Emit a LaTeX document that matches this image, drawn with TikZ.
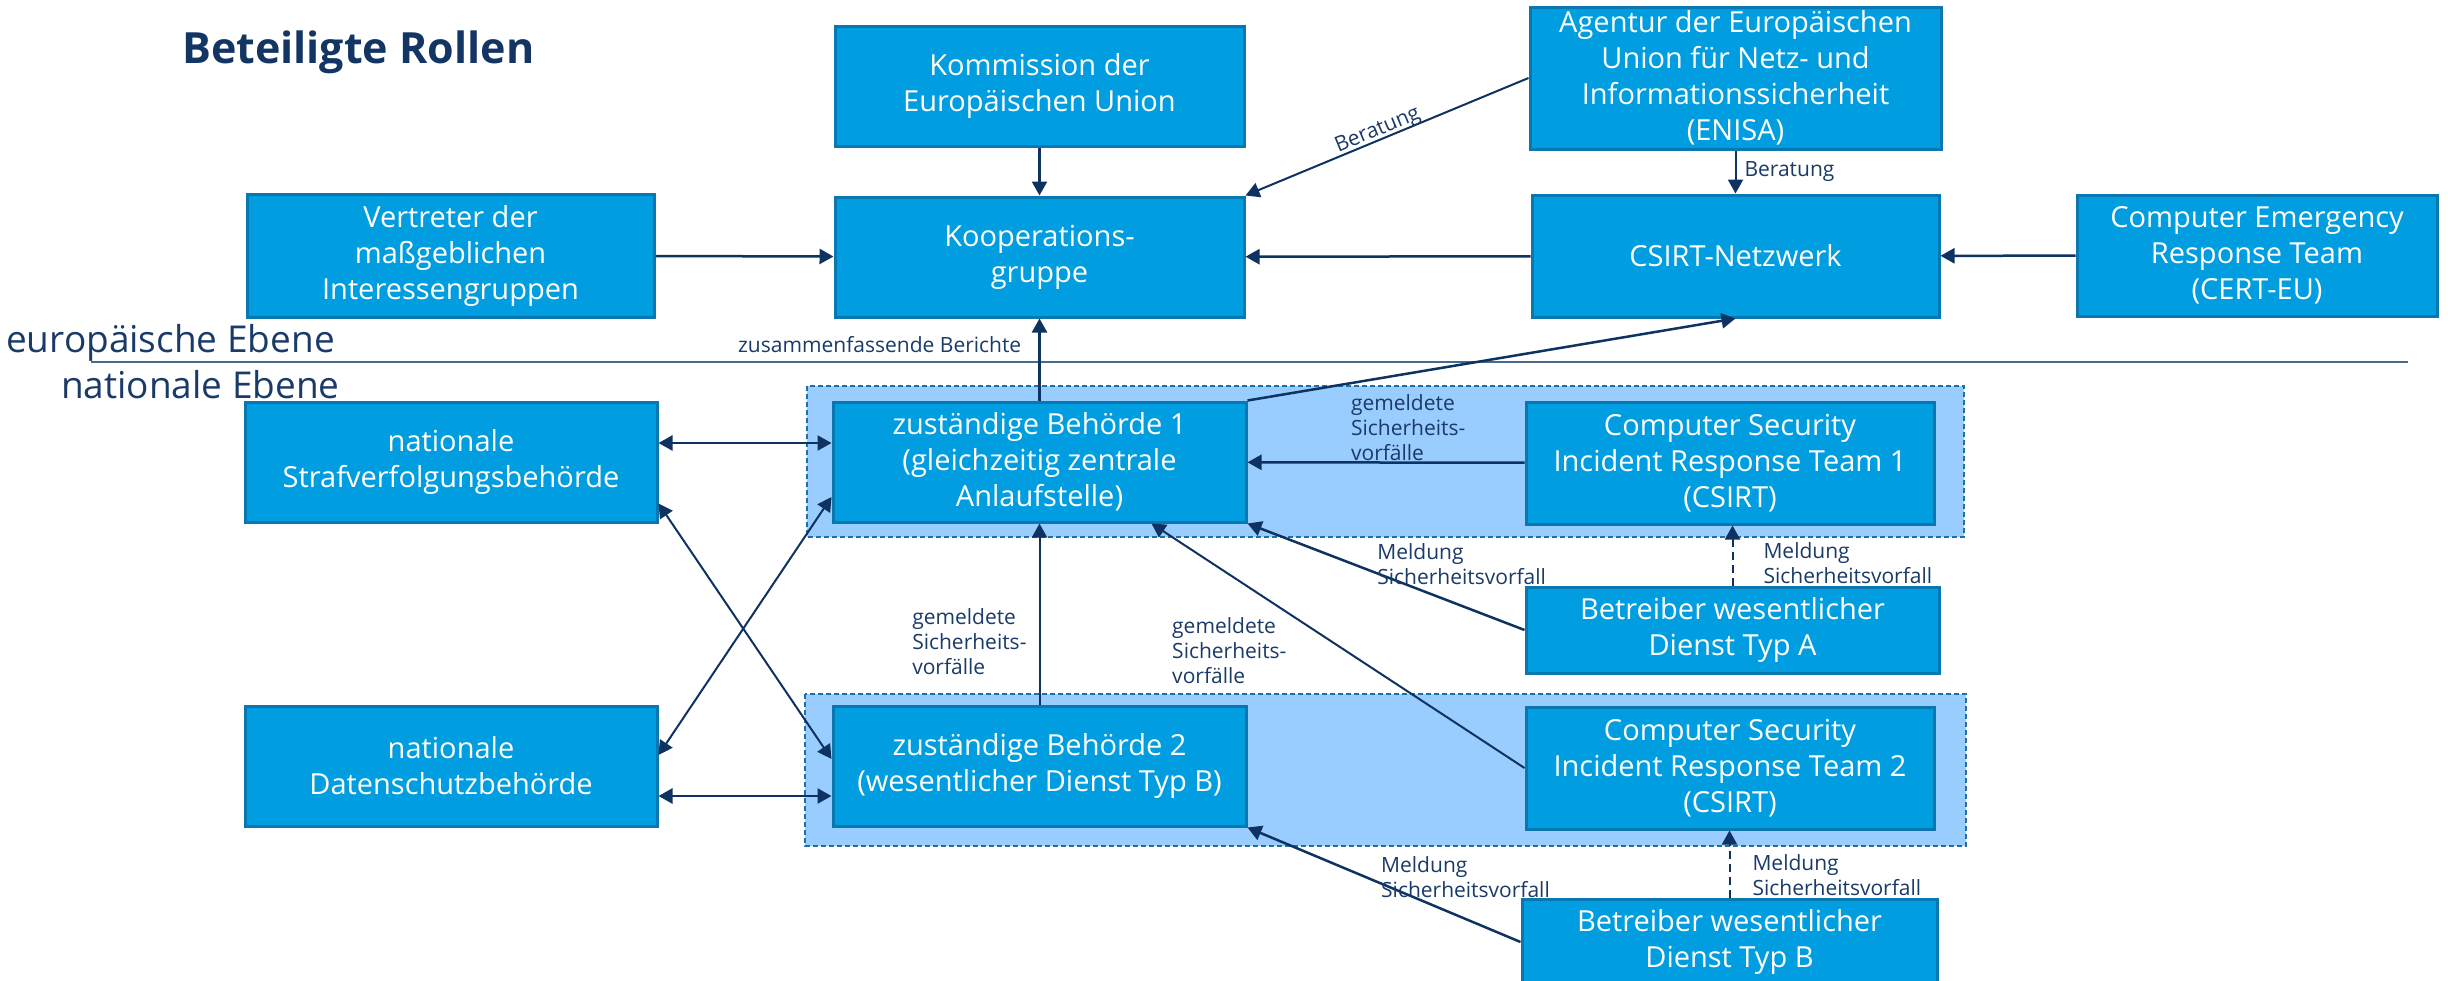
\documentclass[tikz,border=0pt]{standalone}
\usepackage{fontspec}
\setmainfont{Open Sans}
\usetikzlibrary{arrows.meta}
\definecolor{boxblue}{HTML}{009EE0}
\definecolor{boxedge}{HTML}{0B77B0}
\definecolor{groupblue}{HTML}{99CCFF}
\definecolor{groupedge}{HTML}{1F6FA8}
\definecolor{arrowblue}{HTML}{0E3262}
\definecolor{labelblue}{HTML}{1A3A68}
\definecolor{titleblue}{HTML}{123563}
\definecolor{lineblue}{HTML}{4A6A8A}

\begin{document}
\begin{tikzpicture}[x=1pt,y=-1pt,
  my box/.style={
    draw=boxedge, fill=boxblue, line width=3pt, text=white, align=center,
    font=\fontsize{29}{36}\selectfont, inner sep=0pt,
    minimum width=409pt, minimum height=120pt,
  },
  my group/.style={draw=groupedge, fill=groupblue, line width=2pt, dash pattern=on 5pt off 3pt},
  my arrow/.style={draw=arrowblue, line width=2.5pt, -{Triangle[length=14pt,width=15pt]}},
  my double/.style={my arrow, {Triangle[length=14pt,width=15pt]}-{Triangle[length=14pt,width=15pt]}},
  my dashed/.style={my arrow, dash pattern=on 8pt off 5pt},
  my label/.style={text=labelblue, font=\fontsize{21}{25}\selectfont, align=left, inner sep=0pt},
  my side/.style={text=labelblue, font=\fontsize{37}{44}\selectfont, inner sep=0pt},
  ]
  \useasboundingbox (0,0) rectangle (2448,980);

  \node[anchor=base west, text=titleblue, inner sep=0pt, font=\bfseries\fontsize{43}{50}\selectfont] (titel) at (182,63) {Beteiligte Rollen};

  \draw[my group] (807,386) rectangle (1964,537);
  \draw[my group] (805,694) rectangle (1966,846);
  \draw[draw=lineblue, line width=1.5pt] (91,362) -- (2408,362);
  \node[my side, anchor=base west] (euebene) at (6,352) {europäische Ebene};
  \node[my side, anchor=base west] (natebene) at (61,398) {nationale Ebene};

  \node[my box] (komm) at (1039.5,86) {Kommission der\\Europäischen Union};
  \node[my box] (koop) at (1039.5,257) {Kooperations-\\gruppe};
  \node[my box, minimum width=407pt, minimum height=123pt] (vertreter) at (450.5,255.5) {Vertreter der\\maßgeblichen\\Interessengruppen};
  \node[my box, minimum width=411pt, minimum height=142pt] (enisa) at (1735.5,78) {Agentur der Europäischen\\Union für Netz- und\\Informationssicherheit\\(ENISA)};
  \node[my box, minimum width=407pt, minimum height=122pt] (netz) at (1735.5,256) {CSIRT-Netzwerk};
  \node[my box, minimum width=360pt, minimum height=121pt] (cert) at (2257,255.5) {Computer Emergency\\Response Team\\(CERT-EU)};
  \node[my box, minimum width=412pt] (straf) at (451,462) {nationale\\Strafverfolgungsbehörde};
  \node[my box, minimum width=412pt] (daten) at (451,766) {nationale\\Datenschutzbehörde};
  \node[my box, minimum width=413pt] (beh1) at (1039.5,462) {zuständige Behörde 1\\(gleichzeitig zentrale\\Anlaufstelle)};
  \node[my box, minimum width=413pt] (beh2) at (1039.5,766) {zuständige Behörde 2\\(wesentlicher Dienst Typ B)};
  \node[my box, minimum width=408pt, minimum height=122pt] (csirt1) at (1730,463) {Computer Security\\Incident Response Team 1\\(CSIRT)};
  \node[my box, minimum width=408pt, minimum height=122pt] (csirt2) at (1730,768) {Computer Security\\Incident Response Team 2\\(CSIRT)};
  \node[my box, minimum width=413pt, minimum height=86pt] (betrA) at (1732.5,630) {Betreiber wesentlicher\\Dienst Typ A};
  \node[my box, minimum width=415pt, minimum height=86pt] (betrB) at (1729.5,942) {Betreiber wesentlicher\\Dienst Typ B};

  \draw[my arrow] (komm) -- (koop);
  \draw[my arrow] (vertreter) -- (koop);
  \draw[my arrow] (netz) -- (koop);
  \draw[my arrow] (cert) -- (netz);
  \draw[my arrow, line width=2pt] (enisa.west) -- node[my label, pos=0.52, sloped, above=-2pt] {Beratung} (koop.north east);
  \draw[my arrow, line width=2pt] (enisa) -- node[my label, right=8pt] {Beratung} (netz);
  \draw[my arrow] (beh1.north east) -- (netz.south);
  \draw[my arrow] (beh1) -- node[my label, pos=0.588, anchor=base east, xshift=-17pt] {zusammenfassende Berichte} (koop);
  \draw[my arrow] (csirt1) -- node[my label, pos=0.42, above=1pt] {gemeldete\\Sicherheits-\\vorfälle} (beh1);

  \draw[my double] ([yshift=19pt]straf.east) -- ([yshift=19pt]beh1.west);
  \draw[my double] ([yshift=-30pt]daten.east) -- ([yshift=-30pt]beh2.west);
  \draw[my double, line width=2pt] ([yshift=20pt]straf.south east) -- ([yshift=7pt]beh2.west);
  \draw[my double, line width=2pt] ([yshift=11pt]daten.east) -- ([yshift=-35pt]beh1.west);

  \draw[my arrow, line width=2pt] (beh2) -- node[my label, pos=0.35, left=12pt] {gemeldete\\Sicherheits-\\vorfälle} (beh1);
  \draw[my arrow, line width=2pt] (csirt2.west) -- node[my label, pos=0.48, left=58pt] {gemeldete\\Sicherheits-\\vorfälle} ([xshift=112pt]beh1.south);
  \draw[my arrow] (betrA.west) -- node[my label, pos=0.525, anchor=west, xshift=-3pt, yshift=10pt] {Meldung\\Sicherheitsvorfall} (beh1.south east);
  \draw[my arrow] (betrB.west) -- node[my label, pos=0.504, anchor=west, xshift=-3pt, yshift=7pt] {Meldung\\Sicherheitsvorfall} (beh2.south east);
  \draw[my dashed, line width=2pt] (betrA.north) -- node[my label, pos=0.38, right=30pt] {Meldung\\Sicherheitsvorfall} (betrA.north |- csirt1.south);
  \draw[my dashed, line width=2pt] (betrB.north) -- node[my label, pos=0.33, right=22pt] {Meldung\\Sicherheitsvorfall} (betrB.north |- csirt2.south);
\end{tikzpicture}
\end{document}
